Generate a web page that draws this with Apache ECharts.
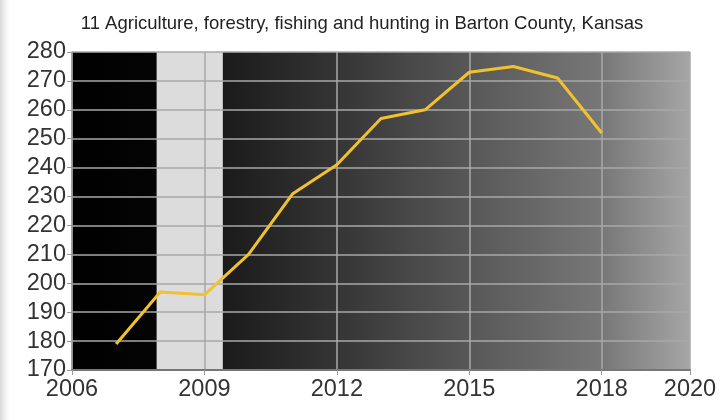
<!DOCTYPE html>
<html>
<head>
<meta charset="utf-8">
<script src="https://cdn.jsdelivr.net/npm/echarts@6/dist/echarts.min.js"></script>
<style>
html,body{margin:0;padding:0;}
body{background:linear-gradient(to right,#d8d8d8 0px,#f4f4f4 6px,#ffffff 10px);}
#chart{width:725px;height:420px;}
</style>
</head>
<body>
<div id="chart"></div>
<script>
const titleText = '11 Agriculture, forestry, fishing and hunting in Barton County, Kansas';
const years = [2007, 2008, 2009, 2010, 2011, 2012, 2013, 2014, 2015, 2016, 2017, 2018];
const values = [179, 197, 196, 210, 231, 241, 257, 260, 273, 275, 271, 252];
const recessionStart = 2007.917;
const recessionEnd = 2009.417;
const xMin = 2006, xMax = 2020, xStep = 3;
const yMin = 170, yMax = 280, yStep = 10;

const chart = echarts.init(document.getElementById('chart'));
const axisFont = {fontFamily: 'Liberation Sans, Arial, sans-serif', fontSize: 23.5, color: '#333'};
chart.setOption({
  animation: false,
  backgroundColor: 'transparent',
  title: {
    text: titleText, left: 357, top: 9, textAlign: 'center',
    textStyle: {fontFamily: 'Liberation Sans, Arial, sans-serif', fontSize: 18.5, fontWeight: 'normal', color: '#222'}
  },
  grid: {
    left: 72, right: 35, top: 52, bottom: 50, show: true, borderWidth: 0,
    backgroundColor: {
      type: 'linear', x: 0, y: 0, x2: 1, y2: 0,
      colorStops: [
        {offset: 0, color: '#000'}, {offset: 0.15, color: '#050505'},
        {offset: 0.24, color: '#1a1a1a'}, {offset: 0.43, color: '#353535'},
        {offset: 0.64, color: '#575757'}, {offset: 0.86, color: '#787878'},
        {offset: 1, color: '#a6a6a6'}
      ]
    }
  },
  xAxis: {
    type: 'value', min: xMin, max: xMax, interval: xStep, z: 3,
    axisLine: {show: true, lineStyle: {color: '#777', width: 2}},
    axisTick: {show: true, length: 5, lineStyle: {color: '#999'}},
    axisLabel: Object.assign({margin: 8, formatter: v => String(v)}, axisFont),
    splitLine: {show: true, lineStyle: {color: '#a8a8a8', width: 1.5}}
  },
  yAxis: {
    type: 'value', min: yMin, max: yMax, interval: yStep, z: 3,
    axisLine: {show: true, lineStyle: {color: '#999', width: 1.5}},
    axisTick: {show: true, length: 5, lineStyle: {color: '#999'}},
    axisLabel: Object.assign({margin: 6}, axisFont),
    splitLine: {show: true, lineStyle: {color: '#a8a8a8', width: 1.5}}
  },
  series: [
    {
      type: 'line', data: [], z: 1,
      markArea: {silent: true, itemStyle: {color: '#dcdcdc', opacity: 1},
        data: [[{xAxis: recessionStart}, {xAxis: recessionEnd}]]}
    },
    {
      type: 'line', z: 5,
      data: years.map((y, i) => [y, values[i]]),
      showSymbol: false, symbol: 'none',
      lineStyle: {color: '#f2c12e', width: 3}
    }
  ]
});
</script>
</body>
</html>
